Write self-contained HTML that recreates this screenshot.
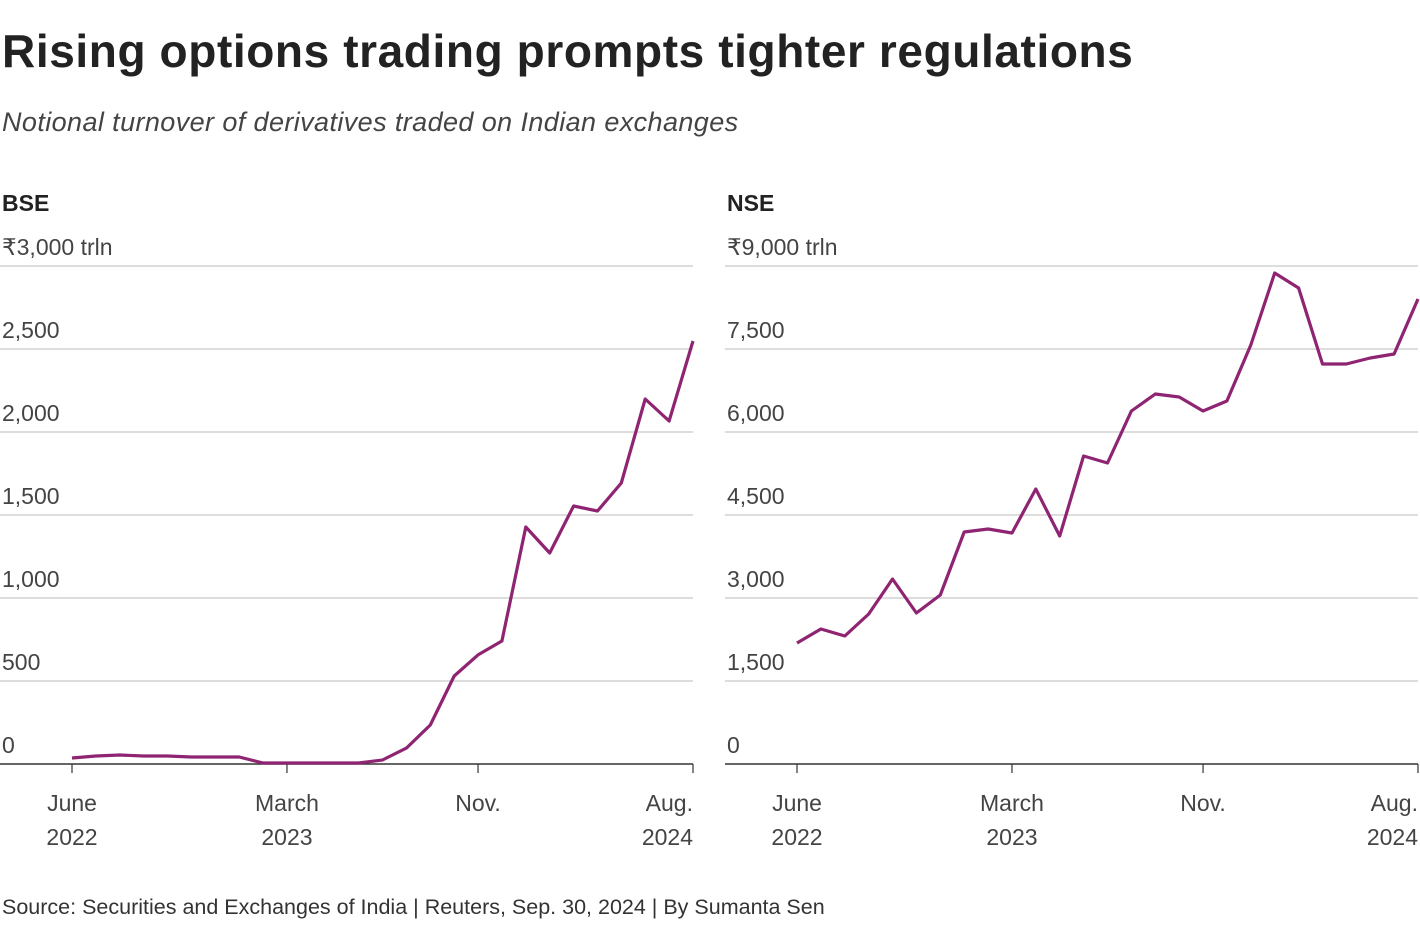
<!DOCTYPE html>
<html><head><meta charset="utf-8">
<style>
body{margin:0;background:#fff;width:1420px;height:930px;overflow:hidden;font-family:"Liberation Sans",sans-serif;color:#222}
#title{position:absolute;left:2px;top:24px;font-size:46px;font-weight:bold;letter-spacing:0.6px;margin:0;white-space:nowrap}
#subtitle{position:absolute;left:2px;top:107px;font-size:27px;font-style:italic;font-weight:300;color:#444;letter-spacing:0.4px;white-space:nowrap}
#source{position:absolute;left:2px;top:895px;font-size:21.5px;color:#333;white-space:nowrap}
svg{position:absolute;left:0;top:0}
</style></head><body>
<h1 id="title">Rising options trading prompts tighter regulations</h1>
<div id="subtitle">Notional turnover of derivatives traded on Indian exchanges</div>
<svg id="chart" width="1420" height="930"></svg>
<div id="source">Source: Securities and Exchanges of India | Reuters, Sep. 30, 2024 | By Sumanta Sen</div>
<script>
const bseValues=[36,48,54,48,48,42,42,42,6,6,6,6,6,24,96,235,530,657,741,1428,1271,1554,1524,1693,2199,2066,2548];
const nseValues=[2187,2440,2313,2711,3343,2729,3054,4193,4247,4175,4970,4121,5566,5440,6380,6687,6633,6380,6560,7572,8874,8603,7229,7229,7337,7410,8404];
const bseTicks=["0","500","1,000","1,500","2,000","2,500","₹3,000 trln"];
const nseTicks=["0","1,500","3,000","4,500","6,000","7,500","₹9,000 trln"];
const xTickMonths=[0,9,17,26];
const xTickLabels=[["June","2022"],["March","2023"],["Nov.",""],["Aug.","2024"]];
const svg=document.getElementById('chart');
const NS='http://www.w3.org/2000/svg';
function mk(t,a){const e=document.createElementNS(NS,t);for(const k in a)e.setAttribute(k,a[k]);svg.appendChild(e);return e;}
function panel(name,left,right,axisStart,maxV,ticks,vals){
  const x0=axisStart, x1=right, y0=764, y1=266;
  const xs=m=>x0+(x1-x0)*m/26;
  const ys=v=>y0-(y0-y1)*v/maxV;
  const t=mk('text',{x:left+2,y:211,'font-size':23,'font-weight':'bold',fill:'#222'});t.textContent=name;
  
  
  ticks.forEach((lab,i)=>{
    const v=maxV*i/(ticks.length-1), y=ys(v);
    const l=mk('line',{x1:left,x2:right,y1:y,y2:y,stroke:i==0?'#333':'#bbb','stroke-width':i==0?1.5:1});
    
    
    const tx=mk('text',{x:left+2,y:y-11,'font-size':23,fill:'#444'});tx.textContent=lab;
    
    
  });
  xTickMonths.forEach((m,i)=>{
    const x=xs(m);
    const tk=mk('line',{x1:x,x2:x,y1:764,y2:773,stroke:'#333','stroke-width':1.2});
    
    
    const anchor=i==3?'end':'middle';
    xTickLabels[i].forEach((s,j)=>{
      if(!s)return;
      const tx=mk('text',{x:x,y:811+j*34,'font-size':23,fill:'#444','text-anchor':anchor});tx.textContent=s;
      
      
    });
  });
  const d=vals.map((v,i)=>(i?'L':'M')+xs(i).toFixed(1)+','+ys(v).toFixed(1)).join(' ');
  const p=mk('path',{d:d,fill:'none',stroke:'#8e2472','stroke-width':3.2,'stroke-linejoin':'round'});
  
  
}
panel('BSE',0,693,72,3000,bseTicks,bseValues);
panel('NSE',725,1418,797,9000,nseTicks,nseValues);
</script>
</body></html>
